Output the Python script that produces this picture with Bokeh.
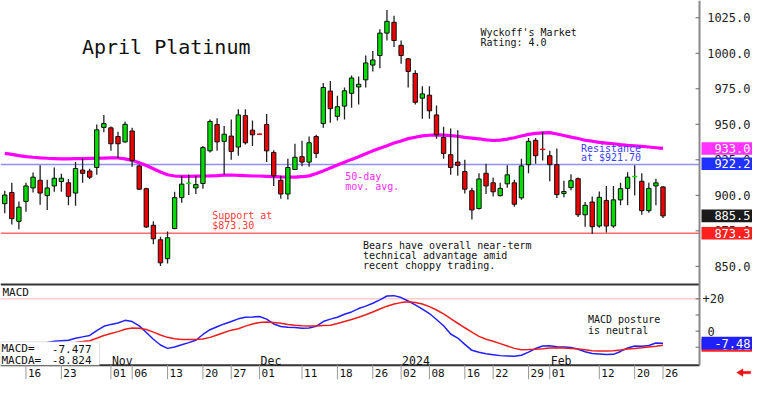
from bokeh.plotting import figure
from bokeh.models import Range1d, Label, BoxAnnotation, PolyAnnotation, ColumnDataSource
from bokeh.core.properties import value
from bokeh.embed import file_html
from bokeh.resources import INLINE

# ---------------- data ----------------
OCT = [11, 12, 13, 16, 17, 18, 19, 20, 23, 24, 25, 26, 27, 30, 31]
NOV = [1, 2, 3, 6, 7, 8, 9, 10, 13, 14, 15, 16, 17, 20, 21, 22, 24, 27, 28, 29, 30]
DEC = [1, 4, 5, 6, 7, 8, 11, 12, 13, 14, 15, 18, 19, 20, 21, 22, 26, 27, 28, 29]
JAN = [2, 3, 4, 5, 8, 9, 10, 11, 12, 16, 17, 18, 19, 22, 23, 24, 25, 26, 29, 30, 31]
FEB = [1, 2, 5, 6, 7, 8, 9, 12, 13, 14, 15, 16, 20, 21, 22, 23, 26]
dates = ([f"2023-10-{d:02d}" for d in OCT] + [f"2023-11-{d:02d}" for d in NOV] +
         [f"2023-12-{d:02d}" for d in DEC] + [f"2024-01-{d:02d}" for d in JAN] +
         [f"2024-02-{d:02d}" for d in FEB])

OPEN = [894.1, 902.0, 881.7, 895.7, 905.2, 910.6, 899.8, 906.6, 909.7, 908.8,
        901.6, 917.8, 917.1, 919.6, 947.8, 947.5, 941.4, 937.6, 945.3, 920.7,
        904.7, 878.9, 868.7, 855.4, 876.6, 898.4, 908.3, 905.2, 908.3, 931.3,
        949.8, 938.0, 941.7, 934.0, 956.1, 945.9, 943.2, 949.8, 930.2, 910.6,
        900.9, 918.2, 927.2, 923.4, 941.4, 950.5, 973.4, 955.6, 962.8, 971.8,
        976.3, 981.3, 991.7, 998.4, 1014.2, 1021.8, 1005.6, 996.1, 985.8, 968.4,
        970.5, 956.6, 940.7, 928.6, 923.4, 916.7, 903.2, 890.7, 915.5, 908.8,
        899.8, 908.1, 908.8, 898.2, 921.6, 938.7, 932.6, 927.9, 921.6, 901.3,
        905.4, 911.7, 886.3, 895.3, 878.4, 896.4, 878.4, 896.8, 904.9, 913.0,
        909.9, 889.2, 906.6, 905.9]
HIGH = [903.2, 908.8, 895.7, 908.8, 916.0, 921.1, 911.0, 919.6, 915.1, 911.5,
        923.4, 925.7, 918.7, 949.8, 956.6, 948.5, 944.8, 952.0, 947.5, 921.6,
        905.4, 881.7, 870.9, 874.5, 902.5, 913.7, 914.7, 913.7, 934.7, 953.4,
        954.3, 948.8, 953.4, 960.6, 960.6, 952.7, 943.4, 957.2, 931.8, 913.7,
        925.7, 936.3, 938.5, 941.4, 942.6, 979.0, 980.4, 970.1, 975.9, 984.3,
        983.6, 998.4, 1001.6, 1016.9, 1030.4, 1026.4, 1009.0, 996.6, 988.0, 976.8,
        976.8, 963.3, 948.2, 947.1, 945.9, 925.0, 905.4, 915.5, 922.3, 912.6,
        908.8, 921.1, 911.0, 925.7, 940.3, 940.3, 944.8, 931.3, 932.9, 910.3,
        914.9, 912.6, 895.3, 899.1, 902.7, 906.6, 906.6, 908.8, 916.2, 921.1,
        915.5, 908.8, 911.7, 906.6]
LOW = [887.4, 879.5, 876.1, 888.5, 902.0, 893.4, 889.7, 902.5, 902.5, 893.0,
       892.6, 908.8, 911.5, 914.4, 944.4, 931.3, 926.3, 937.0, 920.1, 903.8,
       877.2, 865.5, 850.2, 852.0, 876.1, 894.8, 900.2, 900.9, 904.7, 930.2,
       931.3, 914.4, 925.0, 927.9, 935.8, 934.7, 942.7, 923.4, 906.6, 897.5,
       897.1, 917.8, 920.5, 920.1, 926.3, 947.5, 951.1, 952.7, 953.4, 961.7,
       964.0, 975.9, 987.2, 989.4, 1009.0, 1004.5, 992.6, 975.9, 964.0, 953.9,
       953.9, 939.9, 925.7, 914.4, 913.7, 901.3, 882.9, 890.1, 900.9, 899.1,
       899.1, 905.4, 891.9, 896.8, 915.5, 922.3, 924.5, 909.9, 898.2, 898.6,
       903.6, 884.7, 877.9, 872.8, 877.2, 873.8, 877.2, 893.0, 893.0, 899.8,
       886.3, 887.8, 893.0, 884.0]
CLOSE = [900.2, 883.6, 891.7, 906.6, 912.8, 901.6, 905.2, 912.0, 912.0, 899.3,
         918.9, 915.5, 912.8, 946.1, 950.5, 936.3, 936.3, 950.0, 924.5, 904.3,
         877.7, 869.4, 852.5, 870.1, 898.4, 907.9, 908.7, 907.6, 933.6, 952.0,
         937.6, 943.0, 930.9, 956.6, 937.0, 942.6, 942.9, 931.3, 913.7, 900.9,
         919.6, 926.8, 923.4, 937.0, 929.5, 975.9, 961.0, 962.4, 973.6, 982.6,
         978.2, 993.2, 995.3, 1014.2, 1022.5, 1009.0, 998.4, 987.2, 965.5, 971.4,
         959.5, 942.6, 929.5, 919.6, 921.1, 904.3, 889.7, 911.5, 906.6, 902.5,
         904.9, 914.4, 893.7, 920.7, 938.0, 927.9, 932.2, 921.6, 900.5, 902.7,
         910.3, 886.3, 893.0, 877.9, 898.6, 878.4, 896.8, 904.7, 912.8, 913.4,
         889.2, 904.9, 908.8, 885.5]
MA50 = [929.5, 928.8, 928.0, 927.3, 926.8, 926.4, 926.1, 925.9, 925.7, 925.7,
        925.8, 925.9, 926.0, 926.1, 926.2, 926.3, 926.3, 925.7, 924.6, 923.0,
        921.0, 918.7, 916.4, 914.5, 913.6, 913.3, 913.4, 913.5, 913.6, 913.7,
        913.9, 914.2, 914.3, 914.1, 913.8, 913.6, 913.6, 913.4, 913.2, 913.0,
        912.9, 912.8, 913.1, 913.7, 915.3, 917.2, 919.3, 921.3, 923.3, 925.3,
        927.2, 929.2, 931.3, 933.2, 934.9, 936.8, 938.3, 939.9, 940.9, 941.8,
        942.3, 942.6, 942.4, 942.0, 941.6, 940.8, 940.3, 939.8, 939.0, 938.6,
        938.9, 939.6, 940.5, 941.8, 942.9, 943.6, 944.0, 944.1, 943.2, 942.1,
        941.0, 940.0, 938.8, 938.1, 937.3, 936.8, 936.3, 935.7, 935.2, 934.8,
        934.4, 934.0, 933.5, 933.0]
MACD = [-9.5, -9.2, -8.8, -8.4, -8.0, -7.6, -7.0,
        -6.25, -5.95, -5.65, -4.46, -3.57, -2.68, 0.3, 2.98, 4.17, 5.06,
        6.67, 5.95, 3.27, -0.89, -5.06, -8.63, -10.71, -9.82, -8.5, -7.14,
        -5.65, -2.08, 0.89, 2.68, 4.46, 5.95, 7.62, 8.63, 8.81, 9.05,
        7.44, 4.46, 2.86, 2.38, 2.26, 1.79, 1.96, 2.98, 5.95, 7.44,
        8.63, 10.42, 11.9, 13.99,
        15.5, 17.3, 19.4, 21.8, 22.0, 20.8, 18.7, 16.3, 13.7, 10.9, 7.2, 3.3, -1.8, -4.3, -8.2,
        -11.9, -13.1, -14.0, -14.6, -15.2, -15.4, -15.6, -15.0, -13.0, -10.8,
        -9.2, -9.1, -9.7, -9.9, -10.2, -11.2, -12.8, -13.9, -14.2, -14.5,
        -14.4, -12.6, -10.5, -9.2, -9.4, -8.9, -7.4, -7.477]
MACDA = [-11.0, -10.8, -10.5, -10.1, -9.7, -9.3, -8.8, -8.3, -7.9, -7.4, -7.0,
         -6.5, -5.95, -4.46, -2.68, -1.49, -0.3, 1.19, 1.96, 1.79, 1.01,
         -0.6, -2.38, -3.87, -4.76, -5.18, -5.24, -5.24, -4.88, -3.87, -2.38,
         -0.89, 0.6, 1.49, 3.1, 4.46, 5.36, 5.65, 5.36, 4.88, 4.17,
         3.57, 3.27, 3.1, 3.15, 3.45, 3.69, 4.76, 5.95, 7.26, 8.63,
         10.12, 11.9, 13.69, 15.48, 16.85, 17.68, 18.15, 17.8, 16.85, 15.18,
         13.1, 10.71, 7.74, 4.88, 2.08, -0.6, -3.27, -5.06, -6.25, -7.74,
         -9.23, -10.71, -11.61, -11.43, -11.19, -10.89, -10.42, -10.24, -10.42, -10.71,
         -11.01, -11.61, -12.2, -12.38, -12.38, -12.2, -11.73, -11.13, -10.71, -10.3,
         -9.82, -9.4, -8.824]

TICK_DATES = ["2023-10-16", "2023-10-23", "2023-11-01", "2023-11-06", "2023-11-13",
              "2023-11-20", "2023-11-27", "2023-12-01", "2023-12-11", "2023-12-18",
              "2023-12-26", "2024-01-02", "2024-01-08", "2024-01-16", "2024-01-22",
              "2024-01-29", "2024-02-01", "2024-02-12", "2024-02-20", "2024-02-26"]
TICK_LABELS = ["16", "23", "01", "06", "13", "20", "27", "01", "11", "18",
               "26", "02", "08", "16", "22", "29", "01", "12", "20", "26"]
MONTH_DATES = ["2023-11-01", "2023-12-01", "2024-01-02", "2024-02-01"]
MONTH_LABELS = ["Nov", "Dec", "2024", "Feb"]
PRICE_TICKS = [850, 875, 900, 925, 950, 975, 1000, 1025]
MACD_TICKS = [-10, 0, 10, 20]
RESISTANCE = 921.70
RESISTANCE_MARK = 922.2
SUPPORT = 873.30
MACD_REF = 20

# ---------------- layout constants ----------------
W, H = 752, 381
PX_X = 7.078           # pixels per trading day
PX_P = 1.4204          # pixels per price unit
PX_M = 1.6123          # pixels per MACD unit
X_START = -0.6
X_CANVAS = X_START + W / PX_X
AXIS_X = 98.16         # right axis line position
PRICE_HI = 1037.16
PRICE_CANVAS = PRICE_HI - H / PX_P
MACD_HI = 205.06
MACD_CANVAS = MACD_HI - H / PX_M
SPLIT = 837.2          # price-panel / MACD-panel border
PANEL_BOTTOM = 780.4   # MACD panel / date row border
MONO = "DejaVu Sans Mono"
LABEL_R = AXIS_X + 51 / PX_X
BOX_L = AXIS_X + 2 / PX_X
BOX_HALF = 6.3         # px

xs = list(range(len(dates)))
p = figure(width=W, height=H, x_range=Range1d(X_START, X_CANVAS),
           y_range=Range1d(PRICE_CANVAS, PRICE_HI), output_backend="svg",
           toolbar_location=None, x_axis_location=None, y_axis_location=None,
           min_border=0, background_fill_color="white", border_fill_color="white")
p.extra_y_ranges = {"macd": Range1d(MACD_CANVAS, MACD_HI)}
p.grid.visible = False
p.outline_line_color = None

# reference lines (stop at the right axis)
p.segment(x0=[X_START], y0=[RESISTANCE], x1=[AXIS_X], y1=[RESISTANCE],
          line_color="#8f8fff", line_width=1.5)
p.segment(x0=[X_START], y0=[SUPPORT], x1=[AXIS_X], y1=[SUPPORT],
          line_color="#ff6a6a", line_width=1.3)
p.segment(x0=[X_START], y0=[MACD_REF], x1=[AXIS_X], y1=[MACD_REF],
          y_range_name="macd", line_color="#ffb3b3", line_width=1)

# moving average
p.line(xs, MA50, line_color="#ff00ff", line_width=3.2)

# candles
fill = ["#00dd00" if c >= o else "#ee0000" for o, c in zip(OPEN, CLOSE)]
edge = ["#111111" if abs(c - o) >= 0.6 else f for o, c, f in zip(OPEN, CLOSE, fill)]
src = ColumnDataSource(dict(x=xs, o=OPEN, h=HIGH, l=LOW, c=CLOSE,
                            top=[max(o, c) for o, c in zip(OPEN, CLOSE)],
                            bot=[min(o, c) for o, c in zip(OPEN, CLOSE)],
                            fill=fill, edge=edge))
p.segment(x0="x", y0="l", x1="x", y1="h", source=src, line_color="#222222", line_width=1.3)
p.vbar(x="x", width=0.62, top="top", bottom="bot", fill_color="fill",
       line_color="edge", line_width=1, source=src)

# MACD
p.line(xs, MACD, y_range_name="macd", line_color="#1f1fff", line_width=1.5)
p.line(xs, MACDA, y_range_name="macd", line_color="#ee1c1c", line_width=1.5)

# frame lines: panel separators, right axis and ticks
p.segment(x0=[X_START, X_START], y0=[SPLIT, PANEL_BOTTOM], x1=[AXIS_X, AXIS_X],
          y1=[SPLIT, PANEL_BOTTOM], line_color="#333333", line_width=2)
p.segment(x0=[AXIS_X], y0=[PANEL_BOTTOM], x1=[AXIS_X], y1=[PRICE_HI],
          line_color="#8a8a8a", line_width=2)
p.segment(x0=[AXIS_X - 4 / PX_X] * len(PRICE_TICKS), y0=PRICE_TICKS,
          x1=[AXIS_X] * len(PRICE_TICKS), y1=PRICE_TICKS, line_color="#666666", line_width=1)
p.segment(x0=[AXIS_X - 4 / PX_X] * len(MACD_TICKS), y0=MACD_TICKS,
          x1=[AXIS_X] * len(MACD_TICKS), y1=MACD_TICKS, y_range_name="macd",
          line_color="#666666", line_width=1)
tick_x = [dates.index(d) for d in TICK_DATES]
p.segment(x0=tick_x, y0=[PANEL_BOTTOM] * len(tick_x), x1=tick_x,
          y1=[PANEL_BOTTOM - 14 / PX_P] * len(tick_x), line_color="#9a9a9a", line_width=1)

# right axis tick labels (glyph level, so the value boxes can cover them)
FONT = value(MONO)
p.text(x=[LABEL_R] * len(PRICE_TICKS), y=PRICE_TICKS, text=[f"{v:.1f}" for v in PRICE_TICKS],
       text_font=FONT, text_font_size="12px", text_align="right",
       text_baseline="middle", text_color="#222222")
p.text(x=[AXIS_X + 3 / PX_X], y=[20], text=["+20"], y_range_name="macd", text_font=FONT,
       text_font_size="12px", text_baseline="middle", text_color="#222222")
p.text(x=[AXIS_X + 8 / PX_X], y=[0], text=["0"], y_range_name="macd", text_font=FONT,
       text_font_size="12px", text_baseline="middle", text_color="#222222")

# value boxes on the right axis
price_boxes = [(MA50[-1], "#ff33ff"), (RESISTANCE_MARK, "#2030ff"),
               (CLOSE[-1], "#1a1a1a"), (SUPPORT, "#ff2020")]
for v, bg in price_boxes:
    p.quad(left=[BOX_L], right=[X_CANVAS], top=[v + BOX_HALF / PX_P],
           bottom=[v - BOX_HALF / PX_P], fill_color=bg, line_color=None)
    p.text(x=[LABEL_R], y=[v], text=[f"{v:.1f}"], text_font=FONT, text_font_size="12px",
           text_align="right", text_baseline="middle", text_color="white")
macd_boxes = [(MACDA[-1], "#ff2020"), (MACD[-1], "#2020ff")]
for v, bg in macd_boxes:
    p.quad(left=[BOX_L], right=[X_CANVAS], top=[v + BOX_HALF / PX_M],
           bottom=[v - BOX_HALF / PX_M], fill_color=bg, line_color=None,
           y_range_name="macd")
    p.text(x=[LABEL_R], y=[v], text=[f"{v:.2f}"], text_font=FONT, text_font_size="12px",
           text_align="right", text_baseline="middle", text_color="white",
           y_range_name="macd")


def lab(x, y, text, color="#111111", size="10px", align="left", rng="default",
        xo=0, yo=0, font=MONO, **kw):
    p.add_layout(Label(x=x, y=y, text=text, text_color=color, text_font_size=size,
                       text_font=font, text_align=align, text_baseline="middle",
                       y_range_name=rng, x_offset=xo, y_offset=yo, **kw))


# annotations in price panel
lab(10.9, 1004.1, "April Platinum", size="20px")
lab(67.2, 1014.5, "Wyckoff's Market")
lab(67.2, 1007.4, "Rating: 4.0")
lab(81.4, 933.3, "Resistance", color="#3b3bff")
lab(81.4, 926.4, f"at ${RESISTANCE:.2f}", color="#3b3bff")
lab(48.1, 913.5, "50-day", color="#ff2cff")
lab(48.1, 906.4, "mov. avg.", color="#ff2cff")
lab(29.3, 885.8, "Support at", color="#ff3a3a")
lab(29.3, 878.7, f"${SUPPORT:.2f}", color="#ff3a3a")
lab(50.6, 864.9, "Bears have overall near-term")
lab(50.6, 857.6, "technical advantage amid")
lab(50.6, 850.7, "recent choppy trading.")

# MACD panel texts
lab(X_START, 24.1, "MACD", size="11px", rng="macd", xo=2)
lab(82.4, 7.0, "MACD posture", rng="macd")
lab(82.4, 0.6, "is neutral", rng="macd")
p.add_layout(BoxAnnotation(left=X_START, right=X_START + 99 / PX_X, top=-6.67,
                           bottom=MACD_HI - 380 * 0.96 / PX_M, y_range_name="macd",
                           fill_color="white", fill_alpha=1, line_color="#9a9a9a",
                           line_width=1))
lab(X_START, -10.83, "MACD=", size="11px", rng="macd", xo=1)
lab(X_START, -17.98, "MACDA=", size="11px", rng="macd", xo=1)
lab(X_START, -10.83, f"{MACD[-1]:.3f}", size="11px", rng="macd", xo=91, align="right")
lab(X_START, -17.98, f"{MACDA[-1]:.3f}", size="11px", rng="macd", xo=91, align="right")

for d, t in zip(MONTH_DATES, MONTH_LABELS):
    lab(dates.index(d), -18.45, t, size="11.5px", rng="macd", xo=1)

# date labels
for tx, t in zip(tick_x, TICK_LABELS):
    lab(tx, PANEL_BOTTOM, t, size="11px", xo=2, yo=-8)

# small red arrow bottom-right
p.add_layout(PolyAnnotation(xs=[103.4, 104.3, 104.3, 105.4, 105.4, 104.3, 104.3],
                            ys=[775.2, 777.9, 776.1, 776.1, 774.3, 774.3, 772.45],
                            fill_color="#ee1111", fill_alpha=1, line_color="#ee1111"))

open("out.html", "w").write(file_html(p, INLINE))
